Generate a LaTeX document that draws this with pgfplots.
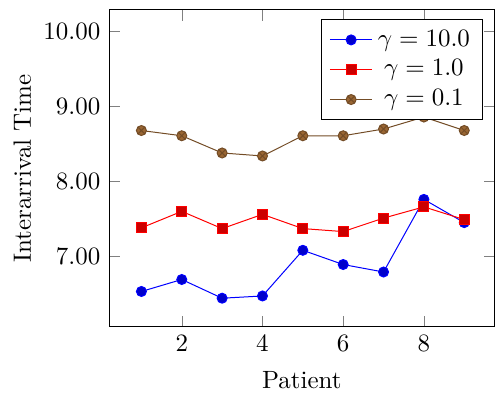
\documentclass[border=0pt]{standalone}
\usepackage{pgfplots}
\pgfplotsset{compat=1.18}
\begin{document}
\begin{tikzpicture}
\begin{axis}[
  scale only axis,
  width=154.3pt, height=126.8pt,
  xmin=0.2, xmax=9.75,
  ymin=6.06, ymax=10.29,
  xtick={2,4,6,8},
  ytick={7,8,9,10},
  yticklabel style={/pgf/number format/.cd, fixed, fixed zerofill, precision=2},
  xlabel={Patient},
  ylabel={Interarrival Time},
  ylabel shift=-2pt,
  xlabel shift=1pt,
  legend pos=north east,
  legend cell align=center,
]
\addplot coordinates {(1,6.53) (2,6.69) (3,6.44) (4,6.47) (5,7.08) (6,6.89) (7,6.79) (8,7.76) (9,7.45)};
\addlegendentry{$\gamma = 10.0$}
\addplot coordinates {(1,7.38) (2,7.60) (3,7.37) (4,7.56) (5,7.37) (6,7.33) (7,7.51) (8,7.66) (9,7.49)};
\addlegendentry{$\gamma = 1.0$}
\addplot coordinates {(1,8.68) (2,8.61) (3,8.38) (4,8.34) (5,8.61) (6,8.61) (7,8.70) (8,8.86) (9,8.68)};
\addlegendentry{$\gamma = 0.1$}
\end{axis}
\path ([xshift=-43.7pt,yshift=-28.8pt]current axis.south west) rectangle ([yshift=4pt]current axis.north east);
\end{tikzpicture}
\end{document}
